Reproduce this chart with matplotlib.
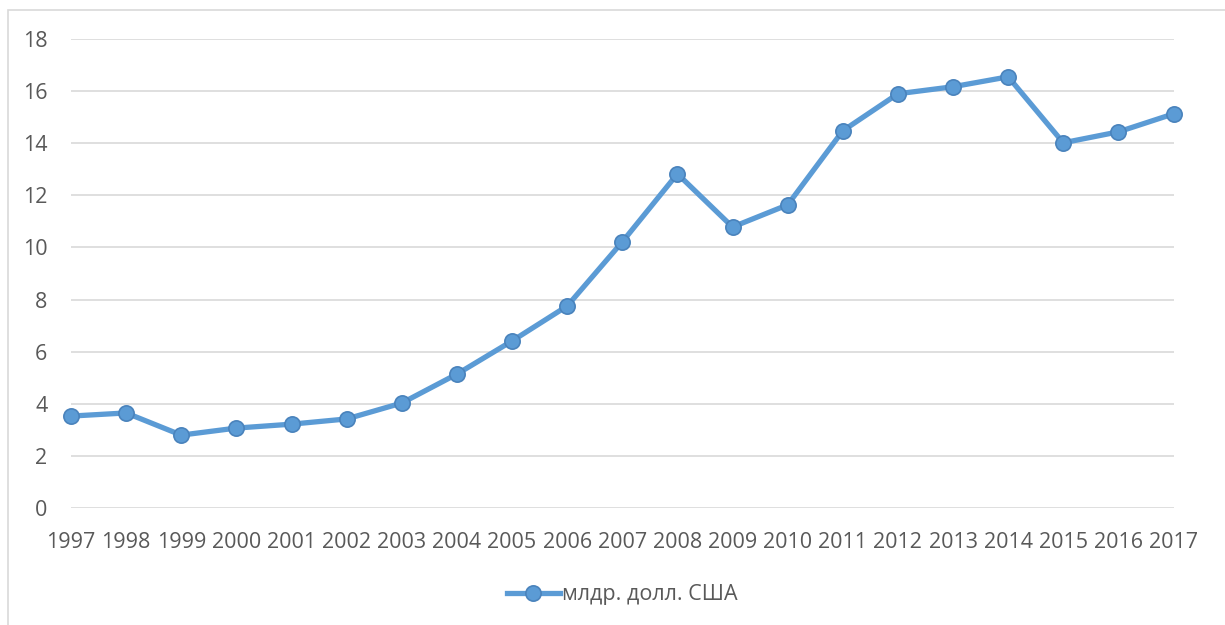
import matplotlib.pyplot as plt
from matplotlib.patches import Rectangle

years = [str(y) for y in range(1997, 2018)]
values = [3.53, 3.65, 2.80, 3.07, 3.22, 3.42, 4.03, 5.14, 6.41, 7.75, 10.21,
          12.82, 10.78, 11.63, 14.47, 15.89, 16.16, 16.54, 14.01, 14.43, 15.12]
series_name = 'млдр. долл. США'

plt.rcParams['font.family'] = ['Open Sans', 'DejaVu Sans']
text_color = '#595959'

fig = plt.figure(figsize=(12.25, 6.25), dpi=100)
ax = fig.add_axes([0.058, 0.187, 0.9, 0.751])

# chart border like the Excel frame
fig.patches.append(Rectangle((8 / 1225, -0.01), 1.02, 1 - 10 / 625 + 0.01,
                             transform=fig.transFigure, fill=False,
                             edgecolor='#d9d9d9', linewidth=1.2))

x = list(range(len(years)))
ax.plot(x, values, color='#5B9BD5', linewidth=3.8, marker='o', markersize=11,
        markerfacecolor='#5B9BD5', markeredgecolor='#4A83BC', markeredgewidth=1.2,
        label=series_name, solid_joinstyle='round', clip_on=False, zorder=3)

ax.set_xlim(0, len(years) - 1)
ax.set_ylim(0, 18)
ax.set_yticks(range(0, 19, 2))
ax.set_xticks(x)
ax.set_xticklabels(years)
ax.grid(axis='y', color='#d9d9d9', linewidth=1.2)
ax.set_axisbelow(True)
for s in ax.spines.values():
    s.set_visible(False)
ax.tick_params(length=0, labelsize=15.5, colors=text_color)
ax.tick_params(axis='x', pad=17)
ax.tick_params(axis='y', pad=17)

leg = ax.legend(loc='center', bbox_to_anchor=(0.5, -0.185), frameon=False,
                fontsize=15.5, handlelength=2.5, handletextpad=0.1)
for t in leg.get_texts():
    t.set_color(text_color)

fig.savefig('out.png', dpi=100)
